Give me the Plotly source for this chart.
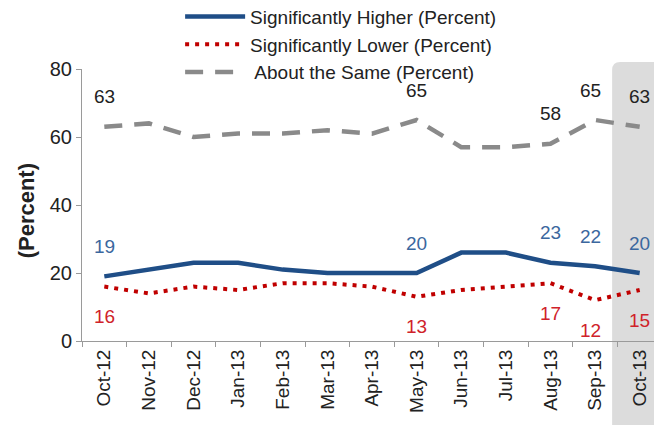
import plotly.graph_objects as go

months = ["Oct-12", "Nov-12", "Dec-12", "Jan-13", "Feb-13", "Mar-13", "Apr-13",
          "May-13", "Jun-13", "Jul-13", "Aug-13", "Sep-13", "Oct-13"]
higher = [19, 21, 23, 23, 21, 20, 20, 20, 26, 26, 23, 22, 20]
lower = [16, 14, 16, 15, 17, 17, 16, 13, 15, 16, 17, 12, 15]
same = [63, 64, 60, 61, 61, 62, 61, 65, 57, 57, 58, 65, 63]
labeled_idx = [0, 7, 10, 11, 12]
y_ticks = [0, 20, 40, 60, 80]

BLUE = "#1F4E87"
RED = "#C00000"
GRAY = "#8A8A8A"
FONT = "Liberation Sans, Arial, sans-serif"

fig = go.Figure()
fig.add_trace(go.Scatter(x=months, y=higher, mode="lines", name="Significantly Higher (Percent)",
                         line=dict(color=BLUE, width=4.5)))
fig.add_trace(go.Scatter(x=months, y=lower, mode="lines", name="Significantly Lower (Percent)",
                         line=dict(color=RED, width=4, dash="4px,6px")))
fig.add_trace(go.Scatter(x=months, y=same, mode="lines", name=" About the Same (Percent)",
                         line=dict(color=GRAY, width=4.5, dash="18px,12px")))

annotations = []
for i in labeled_idx:
    xs = -5 if i == 11 else 0
    annotations.append(dict(x=months[i], y=higher[i], text=str(higher[i]), showarrow=False,
                            yshift=30, xshift=xs, font=dict(color="#3B679E", size=19, family=FONT)))
    annotations.append(dict(x=months[i], y=lower[i], text=str(lower[i]), showarrow=False,
                            yshift=-30, xshift=xs, font=dict(color="#D0222A", size=19, family=FONT)))
    annotations.append(dict(x=months[i], y=same[i], text=str(same[i]), showarrow=False,
                            yshift=30, xshift=xs, font=dict(color="#222222", size=19, family=FONT)))

annotations.append(dict(x=-0.12, y=0.48, xref="paper", yref="paper", text="<b>(Percent)</b>",
                        textangle=-90, showarrow=False,
                        font=dict(size=22, color="#222222", family=FONT)))

# shaded highlight for latest month (rounded top-left corner), paper coords
x0, x1 = 0.914, 1.05
y0, y1 = -0.4, 1.026
rx, ry = 0.014, 0.03
path = (f"M {x0},{y0} L {x0},{y1-ry} Q {x0},{y1} {x0+rx},{y1} "
        f"L {x1},{y1} L {x1},{y0} Z")

fig.update_layout(
    width=662, height=425,
    margin=dict(l=74, r=8, t=61, b=92, autoexpand=False),
    paper_bgcolor="white", plot_bgcolor="rgba(0,0,0,0)",
    font=dict(family=FONT, size=17, color="#222222"),
    showlegend=True,
    legend=dict(x=0.26, y=1.262, xref="container", yref="paper", xanchor="left", yanchor="top",
                bgcolor="rgba(0,0,0,0)", font=dict(size=19, color="#222222"),
                tracegroupgap=0, itemwidth=60),
    shapes=[dict(type="path", path=path, xref="paper", yref="paper",
                 fillcolor="#DCDCDC", line=dict(width=0), layer="below")],
    annotations=annotations,
    xaxis=dict(type="category", range=[-0.5, 12.5], tickson="boundaries",
               ticks="outside", ticklen=5, tickcolor="#9A9A9A",
               showline=True, linecolor="#9A9A9A", linewidth=1,
               showgrid=False, tickangle=-90, tickfont=dict(size=19, color="#222222")),
    yaxis=dict(range=[0, 80], tickvals=y_ticks, ticks="outside", ticklen=5,
               tickcolor="#9A9A9A", showline=True, linecolor="#9A9A9A", linewidth=1,
               showgrid=False, zeroline=False, tickfont=dict(size=20, color="#222222")),
)

fig.write_html("out.html")
